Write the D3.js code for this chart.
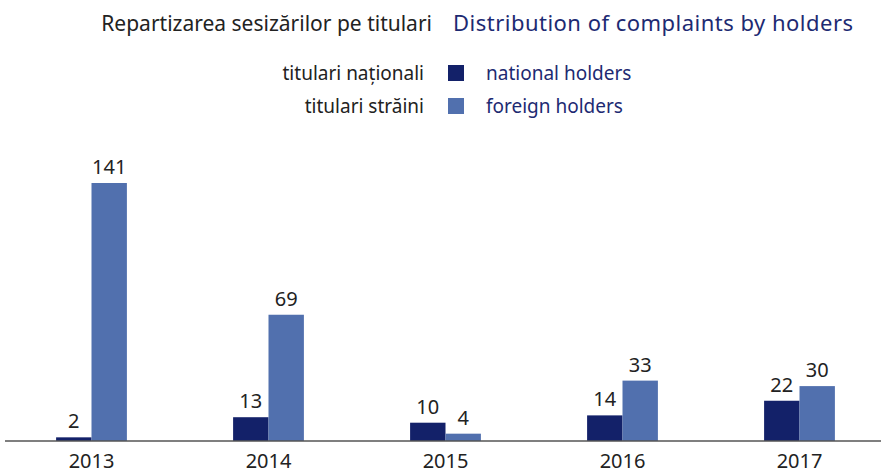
<!DOCTYPE html>
<html>
<head>
<meta charset="utf-8">
<script src="https://cdn.jsdelivr.net/npm/d3@7"></script>
<style>
  body { margin: 0; background: #fff; }
  svg text { font-family: "Noto Sans", sans-serif; }
</style>
</head>
<body>
<svg id="chart" width="881" height="474"></svg>
<script>
var years = ["2013", "2014", "2015", "2016", "2017"];
var nationalHolders = [2, 13, 10, 14, 22];
var foreignHolders = [141, 69, 4, 33, 30];
var seriesNames = ["national", "foreign"];
var legendRo = ["titulari naționali", "titulari străini"];
var legendEn = ["national holders", "foreign holders"];

var width = 881,
	height = 474,
	baseline = 441,
	colors = ["#132169", "#5170ae"],
	navyText = "#1d2a72";

var svg = d3.select("#chart");

var x = d3.scaleBand()
	.domain(years)
	.range([3, 888])
	.paddingInner(0.6)
	.paddingOuter(0.3);

var xSub = d3.scaleBand()
	.domain(seriesNames)
	.range([0, x.bandwidth()]);

var y = d3.scaleLinear()
	.domain([0, 141])
	.range([baseline, 183]);

// titles
svg.append("text")
	.attr("x", 432).attr("y", 31)
	.attr("text-anchor", "end")
	.attr("font-size", 21)
	.attr("fill", "#222")
	.text("Repartizarea sesizărilor pe titulari");

svg.append("text")
	.attr("x", 453).attr("y", 31)
	.attr("font-size", 22)
	.attr("textLength", 400)
	.attr("fill", navyText)
	.text("Distribution of complaints by holders");

// legend
var legend = svg.selectAll(".legend")
	.data(seriesNames)
	.enter()
	.append("g")
	.attr("class", "legend")
	.attr("transform", function(d, i) { return "translate(0," + (80 + i * 33) + ")"; });

legend.append("text")
	.attr("x", 424).attr("y", 0)
	.attr("text-anchor", "end")
	.attr("font-size", 19)
	.attr("fill", "#222")
	.text(function(d, i) { return legendRo[i]; });

legend.append("rect")
	.attr("x", 448).attr("y", -15)
	.attr("width", 16).attr("height", 16)
	.attr("fill", function(d, i) { return colors[i]; });

legend.append("text")
	.attr("x", 486).attr("y", 0)
	.attr("font-size", 19)
	.attr("fill", navyText)
	.text(function(d, i) { return legendEn[i]; });

// bars
var rows = years.map(function(yr, i) {
	return { year: yr, values: [nationalHolders[i], foreignHolders[i]] };
});

var group = svg.selectAll(".year")
	.data(rows)
	.enter()
	.append("g")
	.attr("class", "year")
	.attr("transform", function(d) { return "translate(" + x(d.year) + ",0)"; });

var cell = group.selectAll(".bar")
	.data(function(d) {
		return d.values.map(function(v, i) { return { key: seriesNames[i], value: v, idx: i }; });
	})
	.enter()
	.append("g")
	.attr("class", "bar");

cell.append("rect")
	.attr("x", function(d) { return xSub(d.key); })
	.attr("y", function(d) { return y(d.value); })
	.attr("width", xSub.bandwidth())
	.attr("height", function(d) { return baseline - y(d.value); })
	.attr("fill", function(d) { return colors[d.idx]; });

cell.append("text")
	.attr("x", function(d) { return xSub(d.key) + xSub.bandwidth() / 2; })
	.attr("y", function(d) { return y(d.value) - 9; })
	.attr("text-anchor", "middle")
	.attr("font-size", 20)
	.attr("fill", "#222")
	.text(function(d) { return d.value; });

// axis
var axis = svg.append("g")
	.attr("transform", "translate(0," + baseline + ")")
	.call(d3.axisBottom(x).tickSize(0).tickPadding(13));

axis.select(".domain").remove();
axis.append("line")
	.attr("x1", 5).attr("x2", 881)
	.attr("stroke", "#555").attr("stroke-width", 1.5);

axis.selectAll(".tick text")
	.attr("font-size", 20)
	.attr("font-family", "Noto Sans, sans-serif")
	.attr("fill", "#222")
	.attr("dy", "0.71em");
</script>
</body>
</html>
